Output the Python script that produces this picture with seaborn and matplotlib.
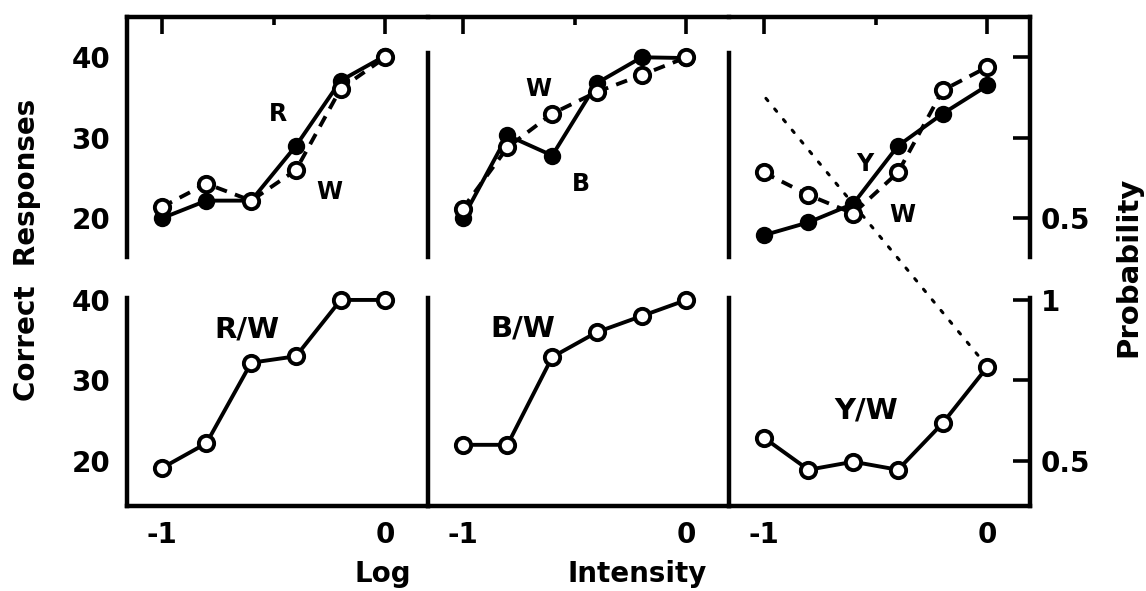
import matplotlib
matplotlib.use("Agg")
import matplotlib.pyplot as plt
from matplotlib.patches import ConnectionPatch
import seaborn as sns

sns.set_style("white")
plt.rcParams["font.family"] = ["DejaVu Sans"]
plt.rcParams["font.weight"] = "bold"
for key in ("text.color", "axes.labelcolor", "xtick.color", "ytick.color", "axes.edgecolor"):
    plt.rcParams[key] = "black"

# Log intensity steps shared by every panel
log_intensity = [-1.0, -0.8, -0.6, -0.4, -0.2, 0.0]

# Top row: responses to each colour (filled) and to white (open)
red_resp = [20.0, 22.2, 22.2, 29.0, 37.1, 40.2]
red_white_resp = [21.4, 24.3, 22.2, 26.0, 36.1, 40.0]
blue_resp = [20.0, 30.3, 27.8, 36.8, 40.0, 39.9]
blue_white_resp = [21.2, 28.8, 33.0, 35.7, 37.8, 40.0]
yellow_resp = [17.9, 19.5, 21.8, 29.0, 33.0, 36.5]
yellow_white_resp = [25.7, 22.9, 20.6, 25.7, 35.9, 38.8]

# Bottom row: correct choices in colour/white discrimination
rw_correct = [19.1, 22.2, 32.2, 33.0, 40.0, 40.0]
bw_correct = [22.0, 22.0, 32.9, 36.0, 38.0, 40.0]
yw_correct = [22.9, 18.9, 19.9, 18.9, 24.7, 31.7]

top_labels = [("R", "W"), ("W", "B"), ("Y", "W")]
bottom_labels = ["R/W", "B/W", "Y/W"]

# dotted guide running from the yellow panel down to the Y/W end point
guide_start = (-0.99, 34.9)
guide_end = (0.0, 31.7)

W, H = 1146, 591
fig = plt.figure(figsize=(W / 100, H / 100), dpi=100)


def rect(x0, y0, x1, y1):
    return [x0 / W, 1 - y1 / H, (x1 - x0) / W, (y1 - y0) / H]


cols = [(127, 428), (428, 729), (729, 1030)]
XLIM = (-1.155, 0.19)
TOP_YLIM = (15.2, 45.0)
BOT_YLIM = (14.4, 44.34)
LW = 2.8
SPW = 3.2
FS = 20

filled_kw = dict(marker="o", markersize=10.5, color="black", markerfacecolor="black",
                 markeredgecolor="black", markeredgewidth=2, linewidth=LW)
open_kw = dict(marker="o", markersize=11, color="black", markerfacecolor="white",
               markeredgecolor="black", markeredgewidth=2.8, linewidth=LW)

top_series = [(red_resp, red_white_resp), (blue_resp, blue_white_resp),
              (yellow_resp, yellow_white_resp)]
bottom_series = [rw_correct, bw_correct, yw_correct]

# positions of the in-panel series names (data units)
top_text_pos = [((-0.48, 33.0), (-0.25, 23.3)),
                ((-0.66, 36.1), (-0.47, 24.3)),
                ((-0.55, 26.8), (-0.38, 20.4))]
bottom_text_pos = [(-0.62, 36.3), (-0.73, 36.5), (-0.54, 26.3)]

axes_top, axes_bot = [], []
for i, (x0, x1) in enumerate(cols):
    at = fig.add_axes(rect(x0, 17, x1, 257))
    ab = fig.add_axes(rect(x0, 265, x1, 506))
    axes_top.append(at)
    axes_bot.append(ab)

    solid, dashed = top_series[i]
    sns.lineplot(x=log_intensity, y=solid, ax=at, clip_on=False, zorder=3, **filled_kw)
    sns.lineplot(x=log_intensity, y=dashed, ax=at, clip_on=False, zorder=4,
                 linestyle=(0, (3, 2.2)), **open_kw)
    sns.lineplot(x=log_intensity, y=bottom_series[i], ax=ab, clip_on=False, zorder=4,
                 **open_kw)

    (p1, p2) = top_text_pos[i]
    at.text(*p1, top_labels[i][0], fontsize=17, fontweight="bold", ha="center", va="center")
    at.text(*p2, top_labels[i][1], fontsize=17, fontweight="bold", ha="center", va="center")
    ab.text(*bottom_text_pos[i], bottom_labels[i], fontsize=21, fontweight="bold",
            ha="center", va="center")

    for ax, ylim in ((at, TOP_YLIM), (ab, BOT_YLIM)):
        ax.set_xlim(*XLIM)
        ax.set_ylim(*ylim)
        ax.set_facecolor("none")
        ax.set_xlabel("")
        ax.set_ylabel("")
        ax.set_yticks([20, 30, 40])
        ax.set_xticks([-1, 0])
        ax.set_xticks([-0.5], minor=True)
        for s in ax.spines.values():
            s.set_linewidth(SPW)
            s.set_color("black")
        ax.spines["right"].set_visible(False)

    # x ticks: along the top edge for the upper row, bottom edge for the lower row
    at.spines["bottom"].set_visible(False)
    at.xaxis.tick_top()
    at.tick_params(axis="x", which="major", direction="in", length=12, width=2.6,
                   labeltop=False, labelbottom=False)
    at.tick_params(axis="x", which="minor", direction="in", length=6, width=2.6)

    ab.spines["top"].set_visible(False)
    ab.tick_params(axis="x", which="major", direction="in", length=14, width=2.6,
                   labelsize=FS, pad=11)
    ab.tick_params(axis="x", which="minor", direction="in", length=6, width=2.6)
    ab.set_xticks([-1, 0], labels=["-1", "0"])
    ab.spines["left"].set_bounds(BOT_YLIM[0], 40.3)

    if i == 0:
        for ax in (at, ab):
            ax.set_yticks([25, 35], minor=True)
            ax.tick_params(axis="y", which="major", direction="in", length=12, width=2.6,
                           labelsize=FS, pad=12)
            ax.tick_params(axis="y", which="minor", direction="in", length=5, width=2.2)
            ax.set_yticklabels(["20", "30", "40"])
    else:
        at.spines["left"].set_bounds(TOP_YLIM[0], 40.5)
        for ax in (at, ab):
            ax.tick_params(axis="y", which="major", direction="inout", length=16, width=2.6,
                           labelleft=False)

# probability scale on the right edge (40 trials = 1)
for ax, labels, bounds in ((axes_top[2], ["0.5", "", ""], None),
                           (axes_bot[2], ["0.5", "", "1"], (BOT_YLIM[0], 40.3))):
    sec = ax.secondary_yaxis("right", functions=(lambda y: y / 40, lambda p: p * 40))
    sec.set_yticks([0.5, 0.75, 1.0], labels=labels)
    sec.tick_params(direction="in", length=12, width=2.6, labelsize=FS, pad=8,
                    colors="black")
    sec.spines["right"].set_linewidth(SPW)
    sec.spines["right"].set_color("black")
    if bounds is not None:
        sec.spines["right"].set_bounds(bounds[0] / 40, bounds[1] / 40)

con = ConnectionPatch(xyA=guide_start, coordsA=axes_top[2].transData,
                      xyB=guide_end, coordsB=axes_bot[2].transData,
                      linestyle=(0, (1, 3.5)), linewidth=2.2, color="black",
                      shrinkB=8)
fig.add_artist(con)

fig.text(27 / W, 1 - 250 / H, "Correct  Responses", rotation=90, ha="center",
         va="center", fontsize=20, fontweight="bold")
fig.text(1128 / W, 1 - 267 / H, "Probability", rotation=90, ha="center",
         va="center", fontsize=21, fontweight="bold")
fig.text(383 / W, 1 - 574 / H, "Log", ha="center", va="center", fontsize=20,
         fontweight="bold")
fig.text(637 / W, 1 - 574 / H, "Intensity", ha="center", va="center", fontsize=20,
         fontweight="bold")

fig.savefig("out.png", dpi=100, facecolor="white")
